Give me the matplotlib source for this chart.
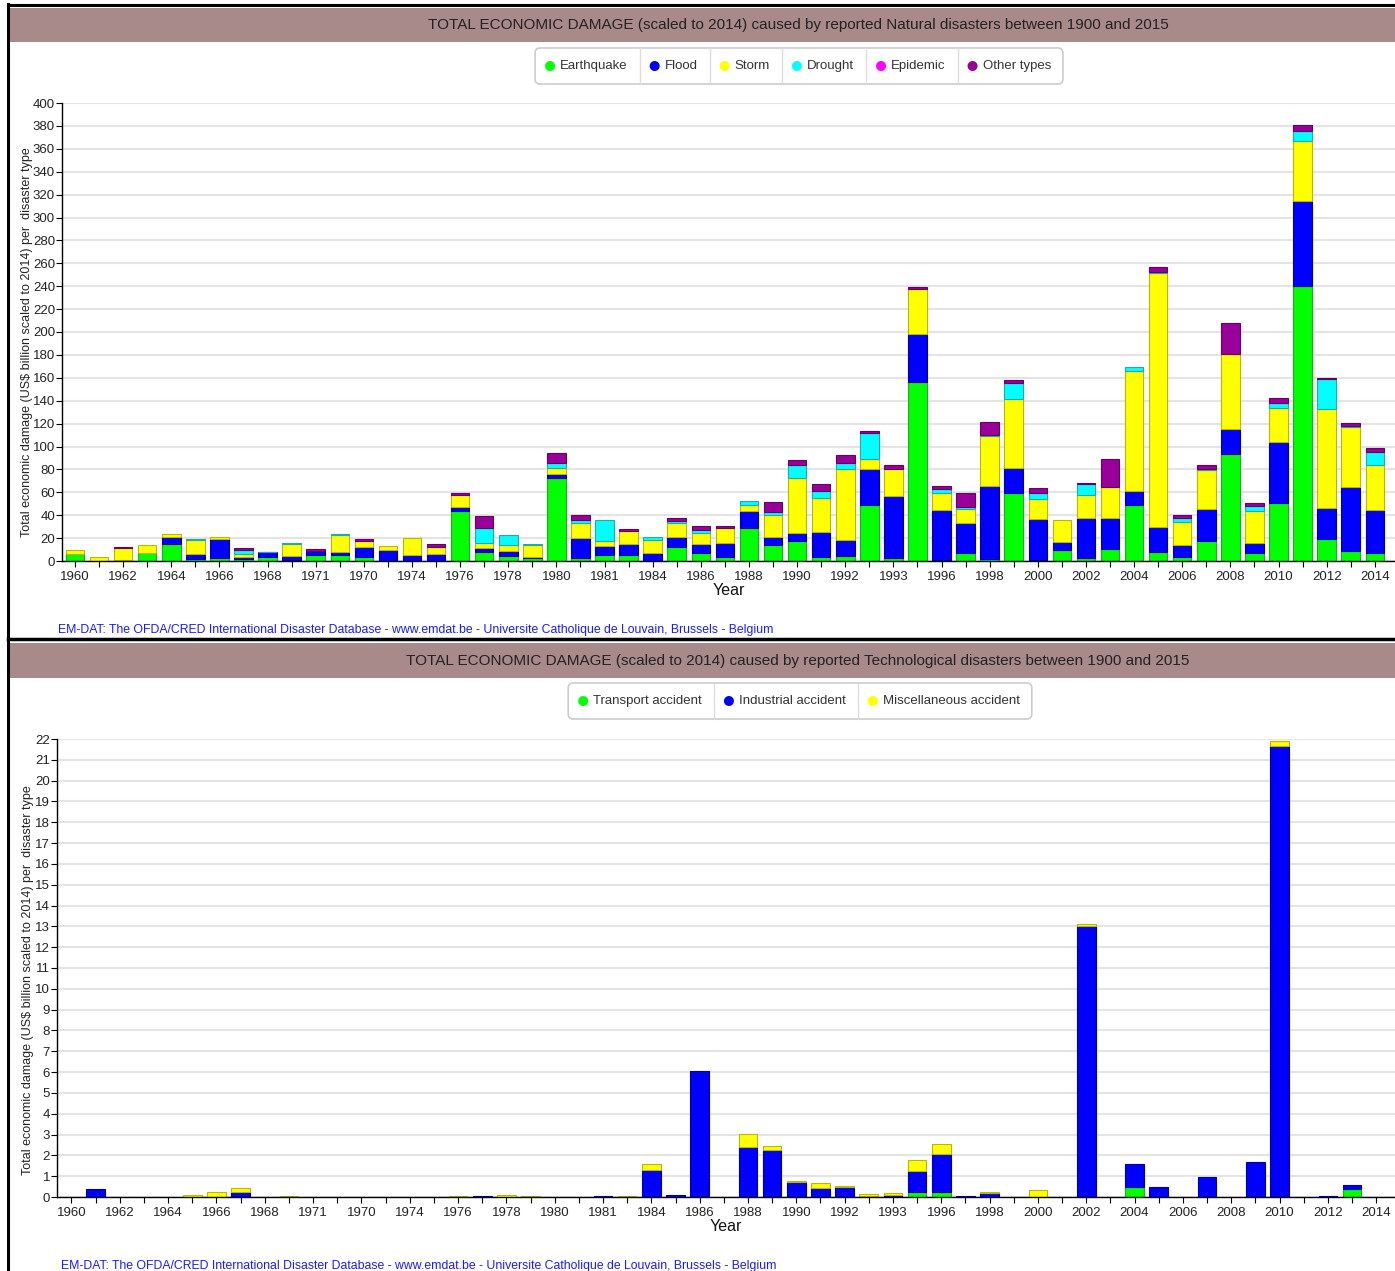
import matplotlib
matplotlib.use('Agg')
import matplotlib.pyplot as plt
import matplotlib.patches as patches
import matplotlib.transforms as mtrans
from matplotlib.lines import Line2D
import numpy as np

# ---- data (US$ billion, scaled to 2014) ----
years = list(range(1960, 2015))
year_labels = ['1960', '1962', '1964', '1966', '1968', '1971', '1970', '1974', '1976',
               '1978', '1980', '1981', '1984', '1986', '1988', '1990', '1992', '1993',
               '1996', '1998', '2000', '2002', '2004', '2006', '2008', '2010', '2012', '2014']

natural_types = ['Earthquake', 'Flood', 'Storm', 'Drought', 'Epidemic', 'Other types']
earthquake = [6.5, 0, 0.3, 6.7, 14.5, 2, 3, 2, 3.8, 0.5,
              4.9, 5.2, 3.8, 0, 0, 0, 44, 8, 4.7, 2.3,
              72.7, 2.9, 5.5, 5.5, 0.3, 12.5, 6.7, 3.5, 28.8, 13.7,
              17.2, 3.5, 4.7, 48.6, 2.9, 156.5, 1.2, 7.3, 2, 59.1,
              1.2, 9.9, 2.9, 10.8, 48.6, 8.1, 3.8, 17.2, 93.7, 6.7,
              50.9, 240.3, 18.9, 8.7, 7.3]
flood = [0, 0, 1, 0, 6.5, 3.8, 16, 1.5, 3.8, 3.5,
         3.8, 2.7, 8.4, 9.3, 4.9, 5.8, 3, 3, 4.3, 0.9,
         3.5, 16.9, 7.3, 9, 6.4, 8.4, 7.8, 12.2, 15.1, 7.2,
         7.2, 21.8, 13.3, 32, 53.8, 41.9, 43, 26.2, 63.5, 22.4,
         35.8, 6.7, 34.6, 27, 12.5, 21.6, 9.9, 27.9, 21.8, 8.7,
         53.2, 73.9, 27.1, 55.9, 36.9]
storm = [3.3, 3.8, 9.7, 7, 2.9, 12.2, 2, 3, 0, 10.5,
         0, 14.5, 5.3, 3.5, 14.9, 6.4, 11, 4.4, 5.3, 10.5,
         5, 13.7, 4.4, 11.4, 11.3, 12.3, 10.2, 12.8, 5, 19.2,
         48, 30, 62.3, 8.7, 23.3, 39.3, 15.4, 11.6, 43.6, 60.2,
         16.8, 19.5, 19.8, 27.1, 104.7, 222.2, 20.3, 34, 65.7, 28.2,
         29.7, 52.4, 86.9, 52.3, 39.6]
drought = [0, 0, 0, 0, 0, 1.5, 0, 3.2, 0.5, 1.2,
           0, 1.5, 0, 0, 0, 0, 0, 13.4, 8.1, 0.8,
           4.6, 2.3, 18.8, 0, 2.7, 1.7, 2.1, 0, 3.8, 2.7,
           11.7, 5.5, 5.5, 22.7, 0, 0, 3.2, 1.7, 1.2, 13.6,
           5.3, 0, 9.6, 0, 3.8, 0.9, 3.5, 0.9, 0, 4.7,
           4.4, 9.3, 25.9, 0.9, 11.6]
epidemic = [0] * 55
other_types = [0, 0, 0.8, 0, 0, 0, 0, 1.4, 0, 0,
               1.5, 0, 1.4, 0, 0, 2.6, 1.1, 10.8, 0, 0,
               8.2, 4.1, 0, 2, 0, 2.9, 4, 2.3, 0, 9,
               3.8, 6.4, 6.4, 1.2, 3.5, 2, 2.7, 12.3, 11.3, 3,
               4.6, 0, 1.2, 24.4, 0, 4.4, 2.6, 4.1, 26.8, 2.6,
               3.8, 4.6, 1.2, 2.9, 3.5]

tech_types = ['Transport accident', 'Industrial accident', 'Miscellaneous accident']
transport = [0, 0, 0, 0, 0, 0, 0, 0, 0, 0,
             0, 0, 0, 0, 0, 0, 0, 0, 0, 0,
             0, 0, 0, 0, 0, 0, 0, 0, 0, 0,
             0, 0, 0, 0, 0, 0.24, 0.24, 0, 0, 0,
             0, 0, 0, 0, 0.47, 0, 0, 0, 0, 0,
             0, 0, 0, 0.39, 0]
industrial = [0, 0.4, 0, 0, 0, 0, 0, 0.25, 0, 0,
              0, 0, 0, 0, 0, 0, 0, 0.05, 0, 0,
              0, 0, 0.05, 0, 1.32, 0.1, 6.05, 0, 2.42, 2.25,
              0.73, 0.44, 0.49, 0.05, 0.08, 0.99, 1.82, 0.03, 0.2, 0,
              0, 0, 13.02, 0, 1.13, 0.47, 0, 0.98, 0, 1.66,
              21.67, 0, 0.04, 0.2, 0]
miscellaneous = [0, 0, 0, 0, 0, 0.1, 0.24, 0.2, 0, 0.03,
                 0, 0, 0, 0, 0, 0, 0.03, 0, 0.1, 0.04,
                 0, 0, 0, 0.04, 0.25, 0, 0, 0, 0.62, 0.22,
                 0.06, 0.24, 0.05, 0.09, 0.11, 0.54, 0.47, 0, 0.04, 0,
                 0.35, 0, 0.07, 0, 0, 0, 0, 0, 0, 0,
                 0.23, 0, 0, 0, 0]

natural_colors = ['#00ff00', '#0000ff', '#ffff00', '#00ffff', '#ff00ff', '#990099']
natural_edges = ['#22aa22', '#000099', '#b8b800', '#22aaaa', '#aa00aa', '#660066']
tech_colors = ['#00ff00', '#0000ff', '#ffff00']
tech_edges = ['#22aa22', '#000099', '#b8b800']

source = ('EM-DAT: The OFDA/CRED International Disaster Database - www.emdat.be - '
          'Universite Catholique de Louvain, Brussels - Belgium')
ylabel = 'Total economic damage (US$ billion scaled to 2014) per  disaster type'

# ---- figure ----
W, H = 1395, 1271
plt.rcParams['font.family'] = ['Liberation Sans', 'DejaVu Sans']
fig = plt.figure(figsize=(W / 100, H / 100), dpi=100)
pix = mtrans.IdentityTransform()


def fx(x):
    return x / W


def fy(y):
    return 1 - y / H


def draw_band(y0, y1, title):
    # brownish title strip
    fig.add_artist(patches.Rectangle((fx(10), fy(y1)), 1 - fx(10), (y1 - y0) / H,
                                     transform=fig.transFigure, facecolor='#a98a8a',
                                     edgecolor='none'))
    fig.text(fx(798), fy((y0 + y1) / 2), title, ha='center', va='center',
             fontsize=11, color='#222222')


def draw_legend(names, colors, cx, cy):
    renderer = fig.canvas.get_renderer()
    widths = []
    for n in names:
        t = fig.text(0, 0, n, fontsize=9.5)
        widths.append(t.get_window_extent(renderer).width)
        t.remove()
    cells = [10 + 10 + 5 + w + 12 for w in widths]
    total = sum(cells)
    left = cx - total / 2
    hgt = 36
    yb = H - cy - hgt / 2
    fig.add_artist(patches.FancyBboxPatch((left, yb), total, hgt, transform=pix,
                                          boxstyle='round,pad=0,rounding_size=5',
                                          facecolor='white', edgecolor='#cccccc', lw=1.2))
    x = left
    for i, n in enumerate(names):
        if i > 0:
            fig.add_artist(Line2D([x, x], [yb, yb + hgt], transform=pix,
                                  color='#dddddd', lw=1))
        fig.add_artist(patches.Circle((x + 15, H - cy), 5, transform=pix,
                                      facecolor=colors[i], edgecolor='none'))
        fig.text(fx(x + 25), fy(cy), n, ha='left', va='center', fontsize=9.5,
                 color='#333333')
        x += cells[i]


def draw_chart(rect, series, colors, edges, ymax, ystep, xlim, ylab_pos):
    ax = fig.add_axes(rect)
    bottom = np.zeros(len(years))
    for vals, c, ec in zip(series, colors, edges):
        vals = np.array(vals, dtype=float)
        lws = [0.8 if v > 0 else 0 for v in vals]
        ax.bar(years, vals, width=0.77, bottom=bottom, color=c, edgecolor=ec,
               linewidth=lws, zorder=2)
        bottom += vals
    ax.set_xlim(*xlim)
    ax.set_ylim(0, ymax)
    ax.set_yticks(np.arange(0, ymax + ystep / 2, ystep))
    ax.set_xticks(years)
    labs = []
    k = 0
    for i, yv in enumerate(years):
        if i % 2 == 0:
            labs.append(year_labels[k])
            k += 1
        else:
            labs.append('')
    ax.set_xticklabels(labs)
    for s in ['top', 'right']:
        ax.spines[s].set_visible(False)
    for s in ['left', 'bottom']:
        ax.spines[s].set_color('black')
        ax.spines[s].set_linewidth(1.0)
    ax.yaxis.grid(True, color='#e4e4e4', lw=1.5, zorder=0)
    ax.set_axisbelow(True)
    ax.tick_params(axis='x', direction='out', length=4, width=0.8, pad=3,
                   labelsize=9.5, labelcolor='#222222')
    ax.tick_params(axis='y', direction='out', length=4, width=0.8, pad=1,
                   labelsize=9.5, labelcolor='#222222')
    ax.set_xlabel('Year', fontsize=11.5, labelpad=0, color='#111111')
    ax.set_ylabel(ylabel, fontsize=9, color='#222222')
    ax.yaxis.set_label_coords(*ylab_pos)
    return ax


# frame lines
fig.add_artist(Line2D([fx(8), fx(8)], [fy(4), 0], transform=fig.transFigure,
                      color='black', lw=2.2))
fig.add_artist(Line2D([fx(8), 1], [fy(5), fy(5)], transform=fig.transFigure,
                      color='black', lw=2.2))
fig.add_artist(Line2D([fx(8), 1], [fy(639), fy(639)], transform=fig.transFigure,
                      color='black', lw=2.5))

# top panel: natural disasters
draw_band(8, 42, 'TOTAL ECONOMIC DAMAGE (scaled to 2014) caused by reported '
          'Natural disasters between 1900 and 2015')
draw_legend(natural_types, natural_colors, 799, 66)
draw_chart([fx(62), fy(561), 1 - fx(62), (561 - 103) / H],
           [earthquake, flood, storm, drought, epidemic, other_types],
           natural_colors, natural_edges, 400, 20, (1959.46, 2014.84),
           (-0.0218, 0.478))
fig.text(fx(58), fy(630), source, ha='left', va='center', fontsize=8.8, color='#1a1aff')

# bottom panel: technological disasters
draw_band(643, 678, 'TOTAL ECONOMIC DAMAGE (scaled to 2014) caused by reported '
          'Technological disasters between 1900 and 2015')
draw_legend(tech_types, tech_colors, 800, 701)
draw_chart([fx(57), fy(1197), 1 - fx(57), (1197 - 739) / H],
           [transport, industrial, miscellaneous],
           tech_colors, tech_edges, 22, 1, (1959.40, 2014.78),
           (-0.0172, 0.474))
fig.text(fx(61), fy(1266), source, ha='left', va='center', fontsize=8.8, color='#1a1aff')

fig.savefig('out.png', dpi=100)
